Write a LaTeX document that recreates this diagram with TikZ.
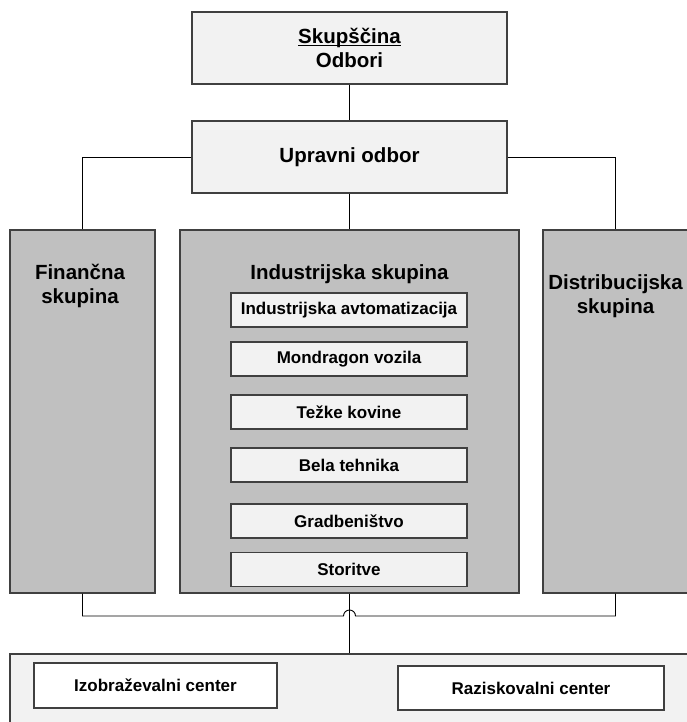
\documentclass[tikz,border=0pt]{standalone}
\usepackage{fontspec}
\setmainfont{Liberation Sans}
\definecolor{lightbox}{HTML}{F2F2F2}
\definecolor{groupgray}{HTML}{C0C0C0}
\definecolor{edgegray}{HTML}{404040}
\newcommand\ulbase[1]{\setbox0\hbox{#1}\rlap{\rule[-2.6pt]{\wd0}{1.3pt}}\box0}
\tikzset{
  box/.style={draw=edgegray, line width=1.1pt, inner sep=0pt, font=\bfseries\fontsize{20.5}{24.5}\selectfont, align=center},
  topbox/.style={box, fill=lightbox},
  groupbox/.style={box, fill=groupgray},
  unitbox/.style={box, fill=lightbox, minimum width=236pt, minimum height=34pt, font=\bfseries\fontsize{17}{20}\selectfont},
  centerbox/.style={box, fill=white, font=\bfseries\fontsize{17}{20}\selectfont},
  grouplabel/.style={inner sep=0pt, font=\bfseries\fontsize{20.5}{24.5}\selectfont, align=center},
  conn/.style={draw=black, line width=0.9pt}
}
\begin{document}
\begin{tikzpicture}[x=1pt,y=-1pt]
\useasboundingbox (0,0) rectangle (686,722);
% top
\node[topbox, minimum width=315pt, minimum height=72pt] (skup) at (349.5,48) {\ulbase{Skupščina}\\Odbori};
\node[topbox, minimum width=315pt, minimum height=72pt] (uprav) at (349.5,157) {Upravni odbor};
% groups
\node[groupbox, minimum width=145pt, minimum height=363pt] (fin) at (82.5,411.5) {};
\node[groupbox, minimum width=339pt, minimum height=363pt] (ind) at (349.5,411.5) {};
\node[groupbox, minimum width=145pt, minimum height=363pt] (dist) at (615.5,411.5) {};
\node[grouplabel] (finL) at (80,286) {Finančna\\skupina};
\node[grouplabel] (indL) at (349.5,274) {Industrijska skupina};
\node[grouplabel] (distL) at (615.5,296) {Distribucijska\\skupina};
% units
\node[unitbox] (u1) at (349,310) {Industrijska avtomatizacija};
\node[unitbox] (u2) at (349,359) {Mondragon vozila};
\node[unitbox] (u3) at (349,412) {Težke kovine};
\node[unitbox] (u4) at (349,465) {Bela tehnika};
\node[unitbox] (u5) at (349,521) {Gradbeništvo};
\node[unitbox] (u6) at (349,569.5) {Storitve};
% bottom
\node[topbox, minimum width=690pt, minimum height=86pt] (bot) at (355,697) {};
\node[centerbox, minimum width=243pt, minimum height=45pt] (izob) at (155.5,685.5) {Izobraževalni center};
\node[centerbox, minimum width=266pt, minimum height=44pt] (raz) at (531,688) {Raziskovalni center};
% connectors
\draw[conn] (skup.south) -- (uprav.north);
\draw[conn] (uprav.west) -| (fin.north);
\draw[conn] (uprav.east) -| (dist.north);
\draw[conn] (uprav.south) -- (ind.north);
\coordinate (hl) at (343.5,616);
\coordinate (hr) at (355.5,616);
\draw[conn] (fin.south) |- (hl) arc[start angle=180, end angle=0, radius=6pt] -- (hr) -| (dist.south);
\draw[conn] (ind.south) -- (ind.south |- bot.north);
\end{tikzpicture}
\end{document}
